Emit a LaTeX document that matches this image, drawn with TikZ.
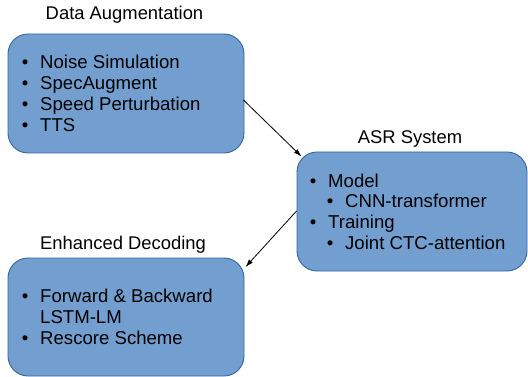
\documentclass[tikz,border=0pt]{standalone}
\usepackage{fontspec}
\setmainfont{Liberation Sans}
\usetikzlibrary{calc,arrows.meta}
\definecolor{boxfill}{HTML}{729FCF}
\definecolor{boxline}{HTML}{3465A4}
\newcommand{\itm}[1]{\llap{\textbullet\hspace{11.8pt}}#1}
\begin{document}
\begin{tikzpicture}[x=1pt,y=-1pt,
  box/.style={draw=boxline,fill=boxfill,line width=0.9pt,rounded corners=20pt,inner sep=0pt},
  txt/.style={anchor=base west,inner sep=0pt,font=\fontsize{18.6}{21}\selectfont},
  ttl/.style={anchor=base,inner sep=0pt,font=\fontsize{18.4}{21}\selectfont},
  link/.style={line width=0.8pt,-{Latex[length=8pt,width=5pt]}}]
\useasboundingbox (0,0) rectangle (528,377);

% Data augmentation
\node[box,minimum width=236pt,minimum height=119pt] (da) at (126,93.5) {};
\node[ttl] (dat) at (124.5,20) {Data Augmentation};
\node[txt] (da1) at (40,69) {\itm{Noise Simulation}};
\node[txt] (da2) at (40,90) {\itm{SpecAugment}};
\node[txt] (da3) at (40,110.8) {\itm{Speed Perturbation}};
\node[txt] (da4) at (40,131.7) {\itm{TTS}};

% ASR system
\node[box,minimum width=230pt,minimum height=119pt] (asr) at (412,211.5) {};
\node[ttl] (asrt) at (410,144) {ASR System};
\node[txt] (asr1) at (328,187.3) {\itm{Model}};
\node[txt] (asr2) at (345,207.5) {\itm{CNN-transformer}};
\node[txt] (asr3) at (328,228.3) {\itm{Training}};
\node[txt] (asr4) at (345,249) {\itm{Joint CTC-attention}};

% Enhanced decoding
\node[box,minimum width=236pt,minimum height=118pt] (ed) at (126,317) {};
\node[ttl] (edt) at (123,249.3) {Enhanced Decoding};
\node[txt] (ed1) at (40,302.7) {\itm{Forward \& Backward}};
\node[txt] (ed2) at (40,323.3) {LSTM-LM};
\node[txt] (ed3) at (40,344) {\itm{Rescore Scheme}};

% Connectors
\draw[link] ($(da.east)+(-1,6.5)$) -- ($(asr.north west)+(5,5)$);
\draw[link] ($(asr.west)+(0,-0.5)$) -- ($(ed.north east)+(1,9.5)$);
\end{tikzpicture}
\end{document}
